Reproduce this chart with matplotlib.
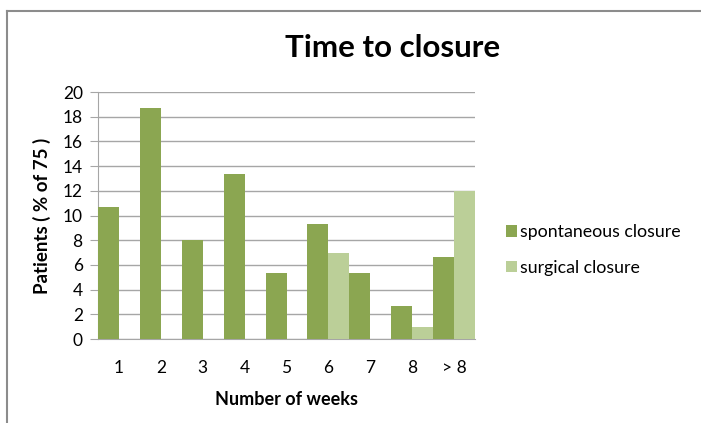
import numpy as np
import matplotlib.pyplot as plt

plt.rcParams['font.family'] = ['Lato', 'DejaVu Sans']

weeks = ['1', '2', '3', '4', '5', '6', '7', '8', '> 8']
spontaneous = [10.67, 18.67, 8.0, 13.33, 5.33, 9.33, 5.33, 2.67, 6.67]
surgical = [0, 0, 0, 0, 0, 7.0, 0, 1.0, 12.0]

dark_green = '#8BA651'
light_green = '#BBCF98'

fig = plt.figure(figsize=(7.01, 4.23), dpi=100)
ax = fig.add_axes([98 / 701, 1 - 339 / 423, 377 / 701, 247 / 423])

x = np.arange(len(weeks))
w = 0.5
ax.bar(x - w / 2, spontaneous, width=w, color=dark_green, label='spontaneous closure', zorder=3)
ax.bar(x + w / 2, surgical, width=w, color=light_green, label='surgical closure', zorder=3)

ax.set_xlim(-0.5, len(weeks) - 0.5)
ax.set_ylim(0, 20)
ax.set_yticks(np.arange(0, 21, 2))
ax.set_xticks(x)
ax.set_xticklabels(weeks)
ax.yaxis.grid(True, color='#A6A6A6', linewidth=1.0, zorder=0)
ax.tick_params(axis='y', length=6, color='#A6A6A6', labelsize=12.5, pad=5)
ax.tick_params(axis='x', length=0, labelsize=12.5, pad=15)
for s in ['top', 'right']:
    ax.spines[s].set_visible(False)
ax.spines['left'].set_color('#A6A6A6')
ax.spines['bottom'].set_color('#A6A6A6')

ax.set_xlabel('Number of weeks', fontsize=13, fontweight='bold', labelpad=11)
ax.set_ylabel('Patients ( % of 75 )', fontsize=13.5, fontweight='bold', labelpad=8)

fig.text(393 / 701, 1 - 48 / 423, 'Time to closure', fontsize=22.5, fontweight='bold',
         ha='center', va='center')

ax.legend(loc='center left', bbox_to_anchor=(1.04, 0.36), frameon=False,
          fontsize=12.8, handlelength=0.6, handleheight=0.6, handletextpad=0.2,
          labelspacing=1.1)

# outer chart frame (only top and left edges visible)
fig.add_artist(plt.Line2D([7 / 701, 7 / 701], [0, 1 - 11 / 423], color='#8C8C8C', linewidth=1.5))
fig.add_artist(plt.Line2D([7 / 701, 1], [1 - 11 / 423, 1 - 11 / 423], color='#8C8C8C', linewidth=1.5))

fig.savefig('out.png', dpi=100)
